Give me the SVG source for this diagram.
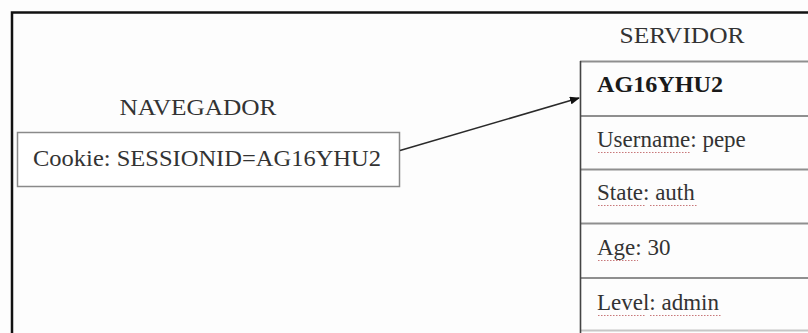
<svg xmlns="http://www.w3.org/2000/svg" width="808" height="333" viewBox="0 0 808 333">
  <style>
    .t { font-family: "Liberation Serif", "Times New Roman", serif; font-size: 23px; fill: #333; }
    .b { font-weight: bold; fill: #1a1a1a; }
    .box { fill: #fff; stroke: #8a8a8a; stroke-width: 1.5; }
    .row { stroke: #8f8f8f; stroke-width: 2; }
    .spell { stroke: #c8787a; stroke-width: 1.2; stroke-dasharray: 1.5 1.5; fill: none; }
    .edge { stroke: #2a2a2a; stroke-width: 1.6; fill: none; }
  </style>
  <defs>
    <marker id="arrow" markerWidth="10" markerHeight="8" refX="9" refY="4" orient="auto" markerUnits="userSpaceOnUse">
      <path d="M0,0 L10,4 L0,8 Z" fill="#111"/>
    </marker>
  </defs>

  <rect width="808" height="333" fill="#fdfdfd"/>

  <!-- outer frame (open to the right and bottom) -->
  <path d="M12,333 V12.5 H808" fill="none" stroke="#111" stroke-width="2.5"/>

  <!-- browser side -->
  <g id="navegador">
    <text class="t" x="198" y="115" text-anchor="middle" textLength="157" lengthAdjust="spacingAndGlyphs">NAVEGADOR</text>
    <rect class="box" x="17.5" y="132.5" width="382" height="54"/>
    <text class="t" x="33" y="166" textLength="348" lengthAdjust="spacingAndGlyphs">Cookie: SESSIONID=AG16YHU2</text>
  </g>

  <!-- server side session table -->
  <g id="servidor">
    <text class="t" x="682" y="43" text-anchor="middle" textLength="125" lengthAdjust="spacingAndGlyphs">SERVIDOR</text>
    <line class="row" x1="580" y1="61.5" x2="808" y2="61.5"/>
    <line class="row" x1="580" y1="116" x2="808" y2="116"/>
    <line class="row" x1="580" y1="169.5" x2="808" y2="169.5"/>
    <line class="row" x1="580" y1="223.5" x2="808" y2="223.5"/>
    <line class="row" x1="580" y1="278" x2="808" y2="278"/>
    <line class="row" x1="580" y1="330.5" x2="808" y2="330.5" stroke-opacity="0.5"/>
    <line x1="580.5" y1="61" x2="580.5" y2="333" stroke="#444" stroke-width="1.6"/>

    <text class="t b" x="597" y="92" textLength="126" lengthAdjust="spacingAndGlyphs">AG16YHU2</text>
    <text class="t" x="597" y="147">Username: pepe</text>
    <path class="spell" d="M598,152.5 H690"/>
    <text class="t" x="597" y="200">State: auth</text>
    <path class="spell" d="M598,205.5 H645 M650,205.5 H698"/>
    <text class="t" x="597" y="255">Age: 30</text>
    <path class="spell" d="M598,260.5 H638"/>
    <text class="t" x="597" y="310">Level: admin</text>
    <path class="spell" d="M598,315.5 H645 M650,315.5 H722"/>
  </g>

  <g id="connectors">
    <line class="edge" x1="400" y1="150.5" x2="579" y2="98" marker-end="url(#arrow)"/>
  </g>
</svg>
